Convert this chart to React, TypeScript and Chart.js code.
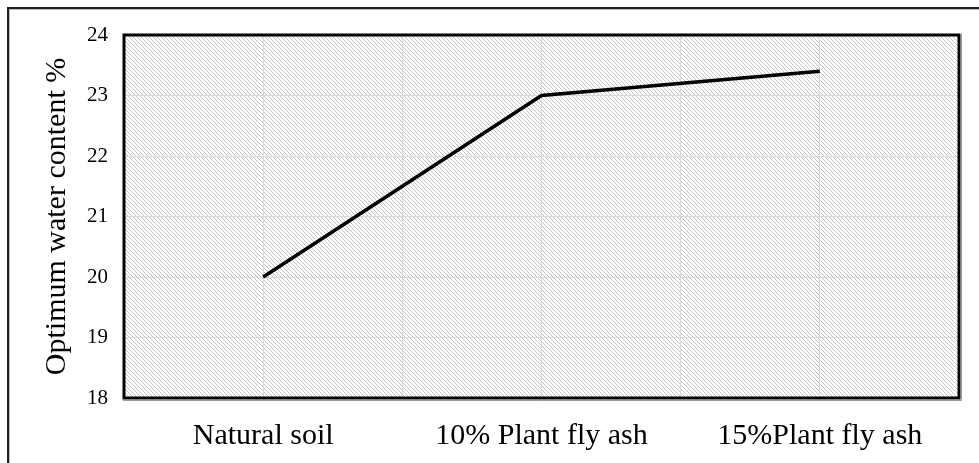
import React, { useEffect, useRef } from "react";
import { Chart, registerables } from "chart.js";

Chart.register(...registerables);

const categories = ["Natural soil", "10% Plant fly ash", "15%Plant fly ash"];
const owcValues = [20, 23, 23.4];
const yTicks = [18, 19, 20, 21, 22, 23, 24];
const yTitle = "Optimum water content %";

const FONT = "'Liberation Serif', 'Times New Roman', serif";

function makeHatch(): CanvasPattern | string {
  const c = document.createElement("canvas");
  c.width = 4;
  c.height = 4;
  const g = c.getContext("2d");
  if (!g) return "#ddd";
  g.fillStyle = "#ffffff";
  g.fillRect(0, 0, 4, 4);
  g.fillStyle = "#c4c4c4";
  for (let i = 0; i < 4; i++) g.fillRect(i, i, 1, 1);
  const ctx = document.createElement("canvas").getContext("2d");
  return (ctx && ctx.createPattern(c, "repeat")) || "#ddd";
}

const plotBg = {
  id: "plotBg",
  beforeDraw(chart: any) {
    const { ctx, chartArea } = chart;
    const hatch = makeHatch();
    ctx.save();
    ctx.fillStyle = hatch;
    ctx.fillRect(chartArea.left, chartArea.top, chartArea.right - chartArea.left, chartArea.bottom - chartArea.top);
    ctx.restore();
  },
  afterDraw(chart: any) {
    const { ctx, chartArea } = chart;
    ctx.save();
    ctx.strokeStyle = "#9a9a9a";
    ctx.lineWidth = 1;
    ctx.beginPath();
    ctx.moveTo(chartArea.left - 1, chartArea.bottom + 2.5);
    ctx.lineTo(chartArea.right + 2.5, chartArea.bottom + 2.5);
    ctx.lineTo(chartArea.right + 2.5, chartArea.top - 1);
    ctx.stroke();
    ctx.strokeStyle = "#000";
    ctx.lineWidth = 3;
    ctx.strokeRect(chartArea.left, chartArea.top, chartArea.right - chartArea.left, chartArea.bottom - chartArea.top);
    ctx.restore();
  },
};

export default function App() {
  const ref = useRef<HTMLCanvasElement | null>(null);
  useEffect(() => {
    if (!ref.current) return;
    const chart = new Chart(ref.current, {
      type: "line",
      data: {
        datasets: [
          {
            data: owcValues.map((v, i) => ({ x: i, y: v })),
            borderColor: "#000",
            borderWidth: 3.5,
            pointRadius: 0,
            tension: 0,
            fill: false,
          },
        ],
      },
      options: {
        animation: false,
        responsive: false,
        maintainAspectRatio: false,
        layout: { padding: { left: 0, top: 35, right: 19, bottom: 0 } },
        plugins: { legend: { display: false }, tooltip: { enabled: false } },
        scales: {
          x: {
            type: "linear",
            min: -0.5,
            max: 2.5,
            afterBuildTicks: (s: any) => {
              const t = [];
              for (let v = -0.5; v <= 2.5001; v += 0.5) t.push({ value: v });
              s.ticks = t;
            },
            afterFit: (s: any) => {
              s.height = 65;
            },
            grid: { color: "#d9d9d9", lineWidth: 1, drawTicks: false },
            border: { display: false },
            ticks: {
              autoSkip: false,
              maxRotation: 0,
              padding: 20,
              color: "#000",
              font: { family: FONT, size: 30 },
              callback: (v: any) => (Number.isInteger(Number(v)) ? categories[Number(v)] ?? "" : ""),
            },
          },
          y: {
            min: 18,
            max: 24,
            afterBuildTicks: (s: any) => {
              s.ticks = yTicks.map((v) => ({ value: v }));
            },
            afterFit: (s: any) => {
              s.width = 124;
            },
            grid: { color: "#d9d9d9", lineWidth: 1, drawTicks: false },
            border: { display: false },
            ticks: {
              padding: 16,
              color: "#000",
              font: { family: FONT, size: 21 },
            },
            title: {
              display: true,
              text: yTitle,
              color: "#000",
              font: { family: FONT, size: 30 },
              padding: { top: 39, bottom: 0 },
            },
          },
        },
      },
      plugins: [plotBg],
    });
    return () => chart.destroy();
  }, []);
  return (
    <div style={{ position: "fixed", left: 0, top: 0, width: 979, height: 463, background: "#fff", overflow: "hidden" }}>
      <div
        style={{
          position: "absolute",
          left: 7,
          top: 7,
          width: 1000,
          height: 500,
          borderTop: "2px solid #222",
          borderLeft: "2px solid #222",
          boxShadow: "inset 1px 1px 0 #bbb",
        }}
      />
      <canvas ref={ref} width={979} height={463} style={{ position: "absolute", left: 0, top: 0 }} />
    </div>
  );
}
